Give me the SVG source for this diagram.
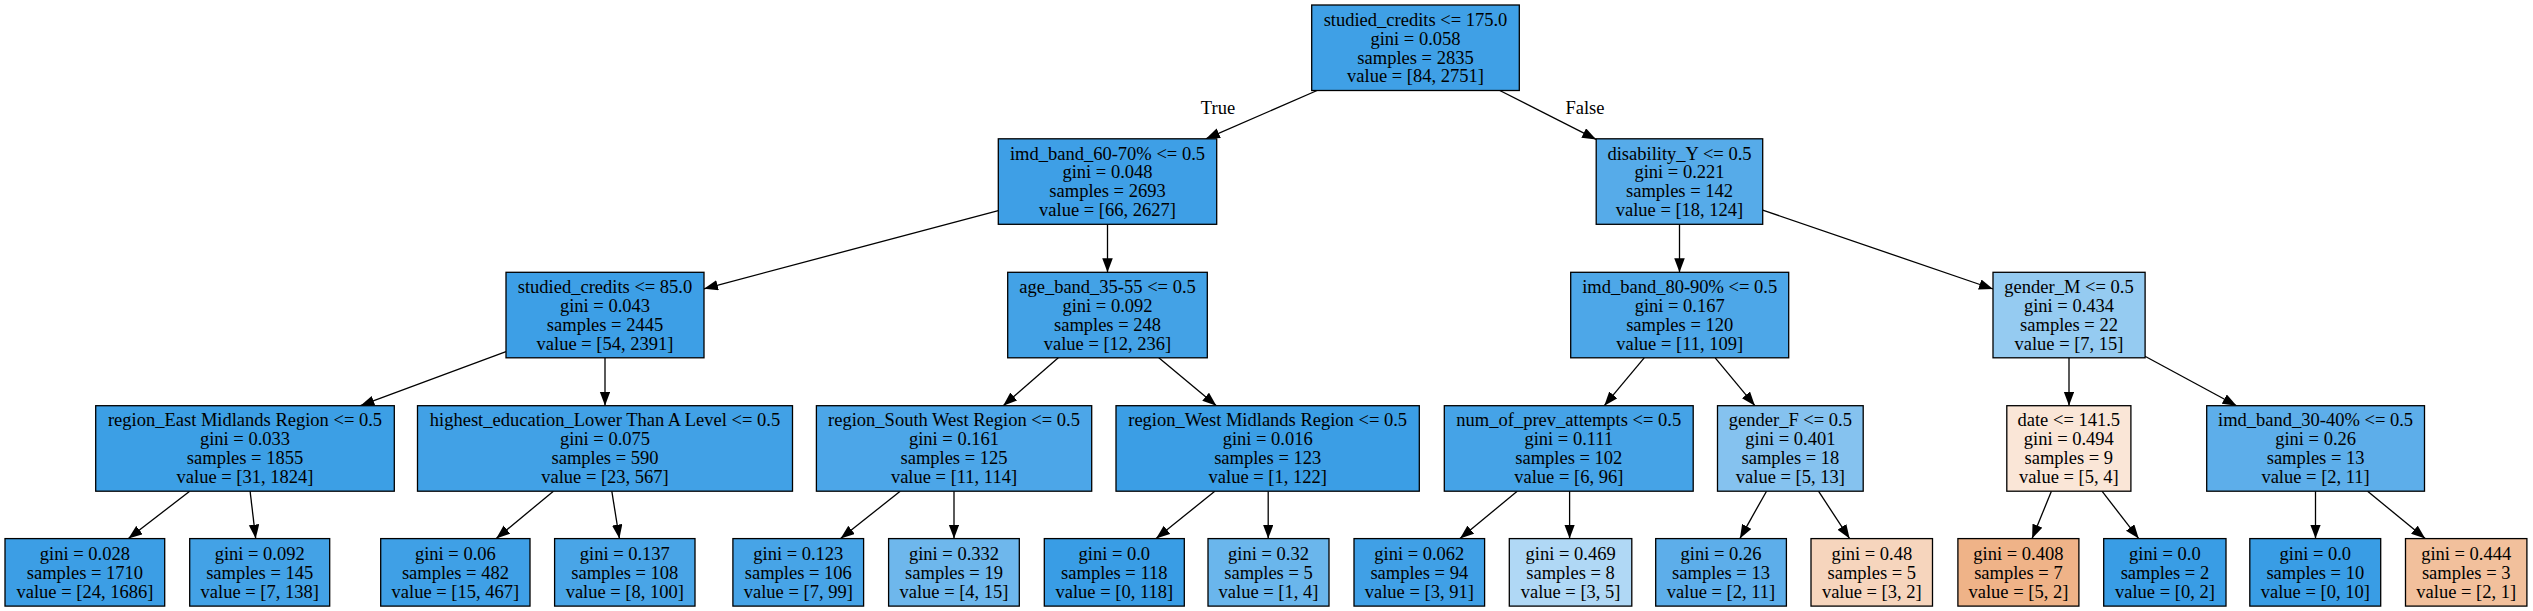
<svg xmlns="http://www.w3.org/2000/svg" width="2533" height="611" viewBox="0 0 2533 611">
<style>
.n rect{stroke:#000;stroke-width:1.3}
text{font-family:"Liberation Serif","Times New Roman",serif;font-size:18.5px;fill:#000;text-anchor:middle}
.e path{fill:none;stroke:#000;stroke-width:1.3;marker-end:url(#ah)}
</style>
<defs>
<marker id="ah" markerUnits="userSpaceOnUse" markerWidth="14" markerHeight="11" refX="14" refY="5.25" orient="auto">
<path d="M0,0 L14,5.25 L0,10.5 z" fill="#000"/>
</marker>
</defs>
<rect width="2533" height="611" fill="#fff"/>
<g id="edges" class="e">
<path d="M1317.1,90.5 L1205.9,138.8"/>
<path d="M1499.8,90.5 L1596.2,139.4"/>
<path d="M998.3,210.6 L704,288.8"/>
<path d="M1107.5,224.3 L1107.5,272.3"/>
<path d="M1679.5,224.3 L1679.5,272.3"/>
<path d="M1762.7,210.1 L1993,289"/>
<path d="M506,351.7 L360.4,405.7"/>
<path d="M605,357.8 L605,405.7"/>
<path d="M1058.3,357.8 L1003.2,405.7"/>
<path d="M1158.8,357.8 L1216.4,405.7"/>
<path d="M1644.2,357.8 L1604.3,405.7"/>
<path d="M1715.2,357.8 L1754.9,405.7"/>
<path d="M2069,357.8 L2069,405.7"/>
<path d="M2145,356.2 L2236.6,405.7"/>
<path d="M189.7,491.2 L128.4,538.6"/>
<path d="M250.1,491.2 L255.7,538.6"/>
<path d="M553.4,491.2 L496.2,538.6"/>
<path d="M611.8,491.2 L619.4,538.6"/>
<path d="M900.2,491.2 L840.6,538.6"/>
<path d="M954,491.2 L954,538.6"/>
<path d="M1214.8,491.2 L1156.1,538.6"/>
<path d="M1268.2,491.2 L1268.2,538.6"/>
<path d="M1517.2,491.2 L1460,538.6"/>
<path d="M1569.6,491.2 L1569.6,538.6"/>
<path d="M1766.5,491.2 L1739.9,538.6"/>
<path d="M1818.5,491.2 L1849.6,538.6"/>
<path d="M2051.4,491.2 L2032.1,538.6"/>
<path d="M2102,491.2 L2138.7,538.6"/>
<path d="M2315.5,491.2 L2315.5,538.6"/>
<path d="M2367.6,491.2 L2425.2,538.6"/>
<text x="1218" y="114">True</text>
<text x="1585" y="114">False</text>
</g>
<g id="n0" class="n"><rect x="1311.7" y="5" width="207.6" height="85.5" fill="#3fa0e6"/><text><tspan x="1415.5" y="25.7">studied_credits &lt;= 175.0</tspan><tspan x="1415.5" y="44.6">gini = 0.058</tspan><tspan x="1415.5" y="63.6">samples = 2835</tspan><tspan x="1415.5" y="82.2">value = [84, 2751]</tspan></text></g>
<g id="n1" class="n"><rect x="998.3" y="138.8" width="218.4" height="85.5" fill="#3e9fe6"/><text><tspan x="1107.5" y="159.5">imd_band_60-70% &lt;= 0.5</tspan><tspan x="1107.5" y="178.4">gini = 0.048</tspan><tspan x="1107.5" y="197.4">samples = 2693</tspan><tspan x="1107.5" y="216">value = [66, 2627]</tspan></text></g>
<g id="n2" class="n"><rect x="1596.2" y="138.8" width="166.5" height="85.5" fill="#56abe9"/><text><tspan x="1679.5" y="159.5">disability_Y &lt;= 0.5</tspan><tspan x="1679.5" y="178.4">gini = 0.221</tspan><tspan x="1679.5" y="197.4">samples = 142</tspan><tspan x="1679.5" y="216">value = [18, 124]</tspan></text></g>
<g id="n3" class="n"><rect x="506" y="272.3" width="198" height="85.5" fill="#3d9fe6"/><text><tspan x="605" y="293">studied_credits &lt;= 85.0</tspan><tspan x="605" y="311.9">gini = 0.043</tspan><tspan x="605" y="330.9">samples = 2445</tspan><tspan x="605" y="349.5">value = [54, 2391]</tspan></text></g>
<g id="n4" class="n"><rect x="1007.7" y="272.3" width="199.6" height="85.5" fill="#43a2e6"/><text><tspan x="1107.5" y="293">age_band_35-55 &lt;= 0.5</tspan><tspan x="1107.5" y="311.9">gini = 0.092</tspan><tspan x="1107.5" y="330.9">samples = 248</tspan><tspan x="1107.5" y="349.5">value = [12, 236]</tspan></text></g>
<g id="n5" class="n"><rect x="1570.7" y="272.3" width="218" height="85.5" fill="#4da7e8"/><text><tspan x="1679.7" y="293">imd_band_80-90% &lt;= 0.5</tspan><tspan x="1679.7" y="311.9">gini = 0.167</tspan><tspan x="1679.7" y="330.9">samples = 120</tspan><tspan x="1679.7" y="349.5">value = [11, 109]</tspan></text></g>
<g id="n6" class="n"><rect x="1993" y="272.3" width="152.1" height="85.5" fill="#95cbf1"/><text><tspan x="2069" y="293">gender_M &lt;= 0.5</tspan><tspan x="2069" y="311.9">gini = 0.434</tspan><tspan x="2069" y="330.9">samples = 22</tspan><tspan x="2069" y="349.5">value = [7, 15]</tspan></text></g>
<g id="n7" class="n"><rect x="95.7" y="405.7" width="298.6" height="85.5" fill="#3c9fe5"/><text><tspan x="245" y="426.4">region_East Midlands Region &lt;= 0.5</tspan><tspan x="245" y="445.3">gini = 0.033</tspan><tspan x="245" y="464.3">samples = 1855</tspan><tspan x="245" y="482.9">value = [31, 1824]</tspan></text></g>
<g id="n8" class="n"><rect x="417.5" y="405.7" width="375" height="85.5" fill="#41a1e6"/><text><tspan x="605" y="426.4">highest_education_Lower Than A Level &lt;= 0.5</tspan><tspan x="605" y="445.3">gini = 0.075</tspan><tspan x="605" y="464.3">samples = 590</tspan><tspan x="605" y="482.9">value = [23, 567]</tspan></text></g>
<g id="n9" class="n"><rect x="816.4" y="405.7" width="275.3" height="85.5" fill="#4ca6e8"/><text><tspan x="954" y="426.4">region_South West Region &lt;= 0.5</tspan><tspan x="954" y="445.3">gini = 0.161</tspan><tspan x="954" y="464.3">samples = 125</tspan><tspan x="954" y="482.9">value = [11, 114]</tspan></text></g>
<g id="n10" class="n"><rect x="1116" y="405.7" width="303.3" height="85.5" fill="#3b9ee5"/><text><tspan x="1267.7" y="426.4">region_West Midlands Region &lt;= 0.5</tspan><tspan x="1267.7" y="445.3">gini = 0.016</tspan><tspan x="1267.7" y="464.3">samples = 123</tspan><tspan x="1267.7" y="482.9">value = [1, 122]</tspan></text></g>
<g id="n11" class="n"><rect x="1444.3" y="405.7" width="248.9" height="85.5" fill="#45a3e7"/><text><tspan x="1568.8" y="426.4">num_of_prev_attempts &lt;= 0.5</tspan><tspan x="1568.8" y="445.3">gini = 0.111</tspan><tspan x="1568.8" y="464.3">samples = 102</tspan><tspan x="1568.8" y="482.9">value = [6, 96]</tspan></text></g>
<g id="n12" class="n"><rect x="1717.5" y="405.7" width="145.7" height="85.5" fill="#85c2ef"/><text><tspan x="1790.4" y="426.4">gender_F &lt;= 0.5</tspan><tspan x="1790.4" y="445.3">gini = 0.401</tspan><tspan x="1790.4" y="464.3">samples = 18</tspan><tspan x="1790.4" y="482.9">value = [5, 13]</tspan></text></g>
<g id="n13" class="n"><rect x="2006.8" y="405.7" width="124.1" height="85.5" fill="#fae6d7"/><text><tspan x="2068.8" y="426.4">date &lt;= 141.5</tspan><tspan x="2068.8" y="445.3">gini = 0.494</tspan><tspan x="2068.8" y="464.3">samples = 9</tspan><tspan x="2068.8" y="482.9">value = [5, 4]</tspan></text></g>
<g id="n14" class="n"><rect x="2206.7" y="405.7" width="217.8" height="85.5" fill="#5daeea"/><text><tspan x="2315.6" y="426.4">imd_band_30-40% &lt;= 0.5</tspan><tspan x="2315.6" y="445.3">gini = 0.26</tspan><tspan x="2315.6" y="464.3">samples = 13</tspan><tspan x="2315.6" y="482.9">value = [2, 11]</tspan></text></g>
<g id="n15" class="n"><rect x="5" y="538.6" width="159.7" height="67.5" fill="#3c9ee5"/><text><tspan x="84.9" y="560.2">gini = 0.028</tspan><tspan x="84.9" y="578.9">samples = 1710</tspan><tspan x="84.9" y="597.6">value = [24, 1686]</tspan></text></g>
<g id="n16" class="n"><rect x="189.7" y="538.6" width="140" height="67.5" fill="#43a2e6"/><text><tspan x="259.7" y="560.2">gini = 0.092</tspan><tspan x="259.7" y="578.9">samples = 145</tspan><tspan x="259.7" y="597.6">value = [7, 138]</tspan></text></g>
<g id="n17" class="n"><rect x="380.7" y="538.6" width="149.3" height="67.5" fill="#3fa0e6"/><text><tspan x="455.4" y="560.2">gini = 0.06</tspan><tspan x="455.4" y="578.9">samples = 482</tspan><tspan x="455.4" y="597.6">value = [15, 467]</tspan></text></g>
<g id="n18" class="n"><rect x="554.6" y="538.6" width="140.4" height="67.5" fill="#49a5e7"/><text><tspan x="624.8" y="560.2">gini = 0.137</tspan><tspan x="624.8" y="578.9">samples = 108</tspan><tspan x="624.8" y="597.6">value = [8, 100]</tspan></text></g>
<g id="n19" class="n"><rect x="732.9" y="538.6" width="130.7" height="67.5" fill="#47a4e7"/><text><tspan x="798.3" y="560.2">gini = 0.123</tspan><tspan x="798.3" y="578.9">samples = 106</tspan><tspan x="798.3" y="597.6">value = [7, 99]</tspan></text></g>
<g id="n20" class="n"><rect x="888.6" y="538.6" width="130.7" height="67.5" fill="#6eb7ec"/><text><tspan x="954" y="560.2">gini = 0.332</tspan><tspan x="954" y="578.9">samples = 19</tspan><tspan x="954" y="597.6">value = [4, 15]</tspan></text></g>
<g id="n21" class="n"><rect x="1044.3" y="538.6" width="140" height="67.5" fill="#399de5"/><text><tspan x="1114.3" y="560.2">gini = 0.0</tspan><tspan x="1114.3" y="578.9">samples = 118</tspan><tspan x="1114.3" y="597.6">value = [0, 118]</tspan></text></g>
<g id="n22" class="n"><rect x="1208" y="538.6" width="121" height="67.5" fill="#6ab6ec"/><text><tspan x="1268.5" y="560.2">gini = 0.32</tspan><tspan x="1268.5" y="578.9">samples = 5</tspan><tspan x="1268.5" y="597.6">value = [1, 4]</tspan></text></g>
<g id="n23" class="n"><rect x="1354" y="538.6" width="130.6" height="67.5" fill="#40a0e6"/><text><tspan x="1419.3" y="560.2">gini = 0.062</tspan><tspan x="1419.3" y="578.9">samples = 94</tspan><tspan x="1419.3" y="597.6">value = [3, 91]</tspan></text></g>
<g id="n24" class="n"><rect x="1509.3" y="538.6" width="122.5" height="67.5" fill="#b0d8f5"/><text><tspan x="1570.6" y="560.2">gini = 0.469</tspan><tspan x="1570.6" y="578.9">samples = 8</tspan><tspan x="1570.6" y="597.6">value = [3, 5]</tspan></text></g>
<g id="n25" class="n"><rect x="1655.7" y="538.6" width="130.7" height="67.5" fill="#5daeea"/><text><tspan x="1721" y="560.2">gini = 0.26</tspan><tspan x="1721" y="578.9">samples = 13</tspan><tspan x="1721" y="597.6">value = [2, 11]</tspan></text></g>
<g id="n26" class="n"><rect x="1811" y="538.6" width="121.5" height="67.5" fill="#f6d5bd"/><text><tspan x="1871.8" y="560.2">gini = 0.48</tspan><tspan x="1871.8" y="578.9">samples = 5</tspan><tspan x="1871.8" y="597.6">value = [3, 2]</tspan></text></g>
<g id="n27" class="n"><rect x="1957.9" y="538.6" width="121" height="67.5" fill="#efb388"/><text><tspan x="2018.4" y="560.2">gini = 0.408</tspan><tspan x="2018.4" y="578.9">samples = 7</tspan><tspan x="2018.4" y="597.6">value = [5, 2]</tspan></text></g>
<g id="n28" class="n"><rect x="2103.7" y="538.6" width="122.3" height="67.5" fill="#399de5"/><text><tspan x="2164.9" y="560.2">gini = 0.0</tspan><tspan x="2164.9" y="578.9">samples = 2</tspan><tspan x="2164.9" y="597.6">value = [0, 2]</tspan></text></g>
<g id="n29" class="n"><rect x="2249.8" y="538.6" width="130.9" height="67.5" fill="#399de5"/><text><tspan x="2315.3" y="560.2">gini = 0.0</tspan><tspan x="2315.3" y="578.9">samples = 10</tspan><tspan x="2315.3" y="597.6">value = [0, 10]</tspan></text></g>
<g id="n30" class="n"><rect x="2405.5" y="538.6" width="121.4" height="67.5" fill="#f2c09c"/><text><tspan x="2466.2" y="560.2">gini = 0.444</tspan><tspan x="2466.2" y="578.9">samples = 3</tspan><tspan x="2466.2" y="597.6">value = [2, 1]</tspan></text></g>
</svg>
